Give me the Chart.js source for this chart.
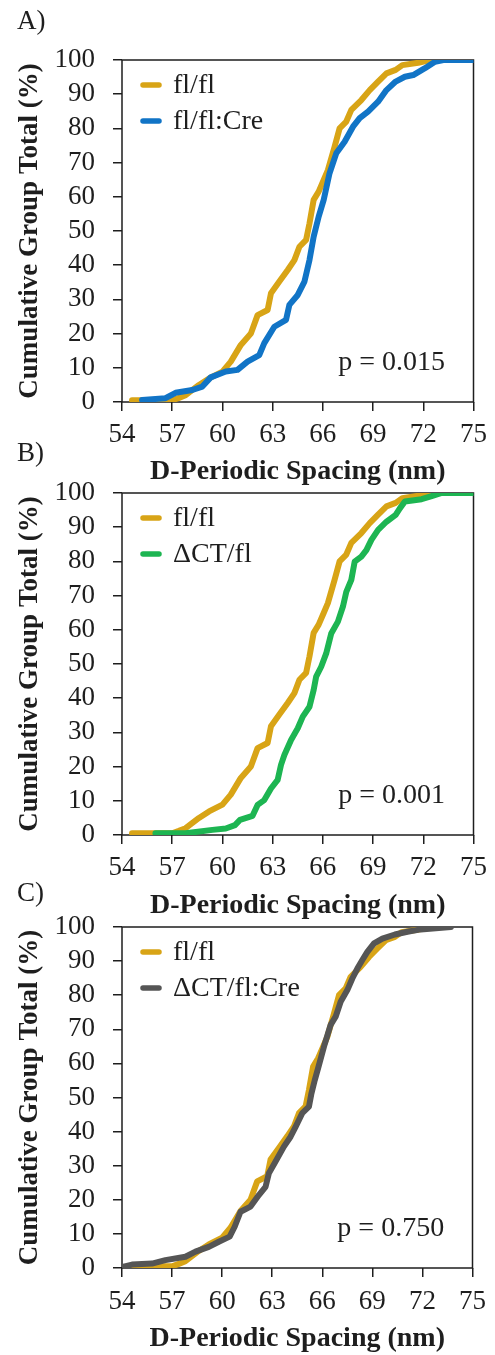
<!DOCTYPE html>
<html lang="en">
<head>
<meta charset="UTF-8">
<title>D-Periodic Spacing cumulative distributions</title>
<script src="https://cdn.jsdelivr.net/npm/chart.js"></script>
<style>
  body { margin: 0; background: #fff; }
  #wrap { position: relative; width: 495px; height: 1355px; }
  .panel { position: absolute; left: 0; width: 495px; }
</style>
</head>
<body>
<div id="wrap">
  <div class="panel" style="top:0;height:489px"><canvas id="chartA"></canvas></div>
  <div class="panel" style="top:440px;height:483px"><canvas id="chartB"></canvas></div>
  <div class="panel" style="top:880px;height:476px"><canvas id="chartC"></canvas></div>
</div>
<script>
// values (D-spacing in nm, cumulative %)
const flflX = [54.6, 57.0, 57.4, 57.8, 58.6, 59.2, 60.0, 60.5, 61.1, 61.7, 62.1, 62.7, 62.9, 63.4, 63.9, 64.3, 64.6, 65.0, 65.2, 65.45, 65.75, 66.05, 66.3, 66.7, 67.0, 67.4, 67.7, 68.3, 68.8, 69.3, 69.8, 70.35, 70.75, 71.7, 72.4];
const flflY = [0.5, 0.5, 1.2, 2.0, 5.0, 6.9, 8.9, 11.8, 16.7, 20.0, 25.4, 26.9, 31.8, 35.2, 38.6, 41.5, 45.4, 47.4, 52.2, 59.1, 61.5, 64.9, 67.8, 74.6, 80.0, 82.0, 85.4, 88.3, 91.2, 93.7, 96.1, 97.1, 98.5, 99.2, 100];

const flflCreX = [55.2, 56.6, 57.2, 58.2, 58.8, 59.3, 60.2, 60.9, 61.5, 62.2, 62.5, 63.1, 63.8, 64.0, 64.5, 64.9, 65.2, 65.45, 65.75, 66.05, 66.4, 66.8, 67.3, 67.8, 68.2, 68.7, 69.3, 69.8, 70.35, 70.9, 71.4, 72.1, 72.7, 73.2, 75];
const flflCreY = [0.6, 1.1, 2.7, 3.5, 4.5, 7.2, 8.9, 9.4, 11.8, 13.7, 17.2, 22.0, 24.0, 28.4, 31.3, 35.2, 41.5, 48.3, 54.2, 59.1, 66.9, 72.7, 76.1, 80.5, 83.0, 84.9, 87.8, 91.2, 93.7, 95.1, 95.6, 97.6, 99.5, 100, 100];

const dctX = [56.0, 57.8, 59.4, 60.2, 60.75, 61.05, 61.8, 62.1, 62.5, 62.9, 63.3, 63.5, 63.7, 64.1, 64.5, 64.8, 65.2, 65.45, 65.6, 65.9, 66.2, 66.5, 66.9, 67.2, 67.4, 67.7, 67.9, 68.3, 68.6, 68.9, 69.3, 69.8, 70.35, 70.6, 70.9, 71.9, 72.5, 73.1, 75];
const dctY = [0.5, 0.5, 1.5, 1.9, 2.9, 4.4, 5.6, 8.8, 10.2, 13.6, 16.1, 20.5, 23.4, 27.8, 31.2, 34.6, 37.5, 42.4, 46.3, 49.2, 53.1, 58.9, 62.4, 66.8, 71.1, 74.6, 79.9, 81.4, 83.3, 86.3, 89.2, 91.6, 93.6, 95.5, 97.5, 98.2, 99.1, 100, 100];

const dctCreX = [54.1, 54.6, 55.8, 56.6, 57.8, 58.4, 59.2, 59.8, 60.45, 60.75, 61.1, 61.7, 62.2, 62.6, 62.8, 63.2, 63.7, 64.1, 64.4, 64.8, 65.2, 65.35, 65.55, 65.8, 66.1, 66.5, 66.8, 67.1, 67.5, 67.8, 68.1, 68.4, 68.7, 69.1, 69.6, 70.35, 71.1, 71.9, 73.7];
const dctCreY = [0.4, 1.0, 1.3, 2.3, 3.3, 4.8, 6.2, 7.7, 9.2, 12.1, 16.5, 18.0, 21.4, 23.8, 27.8, 31.2, 35.6, 38.5, 41.4, 45.4, 47.3, 51.2, 55.1, 59.5, 64.9, 71.3, 73.7, 78.1, 81.5, 84.9, 87.8, 90.3, 92.7, 95.2, 96.6, 97.8, 98.6, 99.3, 100];

const xTicksMin = 54, xTicksMax = 75, xStep = 3;
const pValues = ['p = 0.015', 'p = 0.001', 'p = 0.750'];

const GOLD = '#D8A416', BLUE = '#1174C6', GREEN = '#1DB552', GRAY = '#555555';
const INK = '#1e1e1e';
const SERIF = "'Liberation Serif', 'Times New Roman', serif";

Chart.defaults.font.family = SERIF;
Chart.defaults.color = INK;

function pts(xs, ys) {
  return xs.map((x, i) => ({ x: x, y: ys[i] }));
}

function series(label, xs, ys, color, order) {
  return {
    label: label,
    data: pts(xs, ys),
    borderColor: color,
    backgroundColor: color,
    borderWidth: 6,
    borderCapStyle: 'round',
    borderJoinStyle: 'round',
    pointRadius: 0,
    tension: 0,
    order: order
  };
}

// box around the plot area
const frame = {
  id: 'frame',
  beforeDatasetsDraw(chart) {
    const { ctx, chartArea: a } = chart;
    ctx.save();
    ctx.strokeStyle = INK;
    ctx.lineWidth = 1.5;
    ctx.strokeRect(a.left, a.top, a.width, a.height);
    ctx.restore();
  }
};

// legend inside the plot, top left (built-in one can't sit there in a column)
const insideLegend = {
  id: 'insideLegend',
  afterDatasetsDraw(chart) {
    const { ctx, chartArea: a } = chart;
    ctx.save();
    chart.data.datasets.forEach((ds, i) => {
      const y = a.top + 25 + i * 36;
      ctx.strokeStyle = ds.borderColor;
      ctx.lineWidth = 5.5;
      ctx.lineCap = 'round';
      ctx.beginPath();
      ctx.moveTo(a.left + 21, y);
      ctx.lineTo(a.left + 37, y);
      ctx.stroke();
      ctx.font = '28px ' + SERIF;
      ctx.fillStyle = INK;
      ctx.textAlign = 'left';
      ctx.textBaseline = 'middle';
      ctx.fillText(ds.label, a.left + 51, y + 1);
    });
    ctx.restore();
  }
};

// p-value note, placed in data units
const pNote = {
  id: 'pNote',
  afterDatasetsDraw(chart, args, opts) {
    const { ctx, scales } = chart;
    ctx.save();
    ctx.font = '28px ' + SERIF;
    ctx.fillStyle = INK;
    ctx.textAlign = 'right';
    ctx.textBaseline = 'middle';
    ctx.fillText(opts.text, scales.x.getPixelForValue(73.3), scales.y.getPixelForValue(11.6));
    ctx.restore();
  }
};

function makeChart(id, letter, datasets, pText, titlePad, xHeight, xTickPad) {
  return new Chart(document.getElementById(id), {
    type: 'line',
    data: { datasets: datasets },
    plugins: [frame, insideLegend, pNote],
    options: {
      responsive: true,
      maintainAspectRatio: false,
      animation: false,
      layout: { padding: { left: 17, right: 16, top: 0, bottom: 0 } },
      plugins: {
        title: {
          display: true,
          text: letter,
          align: 'start',
          color: INK,
          font: { size: 27, weight: 'normal', lineHeight: 1 },
          padding: titlePad
        },
        legend: { display: false },
        tooltip: { enabled: false },
        pNote: { text: pText }
      },
      scales: {
        x: {
          type: 'linear',
          min: xTicksMin,
          max: xTicksMax,
          border: { display: false },
          grid: { drawOnChartArea: false, drawTicks: true, tickLength: 9, color: INK, lineWidth: 1.5 },
          ticks: { stepSize: xStep, autoSkip: false, padding: xTickPad, font: { size: 27 }, color: INK, maxRotation: 0 },
          title: {
            display: true,
            text: 'D-Periodic Spacing (nm)',
            color: INK,
            font: { size: 28, weight: 'bold', lineHeight: 1.2 },
            padding: { top: 0, bottom: 0 }
          },
          afterFit: (s) => { s.height = xHeight; }
        },
        y: {
          min: 0,
          max: 100,
          border: { display: false },
          grid: { drawOnChartArea: false, drawTicks: true, tickLength: 9, color: INK, lineWidth: 1.5 },
          ticks: { stepSize: 10, autoSkip: false, padding: 18, font: { size: 27, lineHeight: 1 }, color: INK },
          title: {
            display: true,
            text: 'Cumulative Group Total (%)',
            color: INK,
            font: { size: 27, weight: 'bold', lineHeight: 1 },
            padding: 0
          },
          afterFit: (s) => { s.width = 105; }
        }
      }
    }
  });
}

makeChart('chartA', 'A)', [
  series('fl/fl', flflX, flflY, GOLD, 2),
  series('fl/fl:Cre', flflCreX, flflCreY, BLUE, 1)
], pValues[0], { top: 8.5, bottom: 24.5 }, 87, 8);

makeChart('chartB', 'B)', [
  series('fl/fl', flflX, flflY, GOLD, 2),
  series('\u0394CT/fl', dctX, dctY, GREEN, 1)
], pValues[1], { top: 0, bottom: 26 }, 88, 8);

makeChart('chartC', 'C)', [
  series('fl/fl', flflX, flflY, GOLD, 2),
  series('\u0394CT/fl:Cre', dctCreX, dctCreY, GRAY, 1)
], pValues[2], { top: 0, bottom: 20 }, 88, 9);
</script>
</body>
</html>
